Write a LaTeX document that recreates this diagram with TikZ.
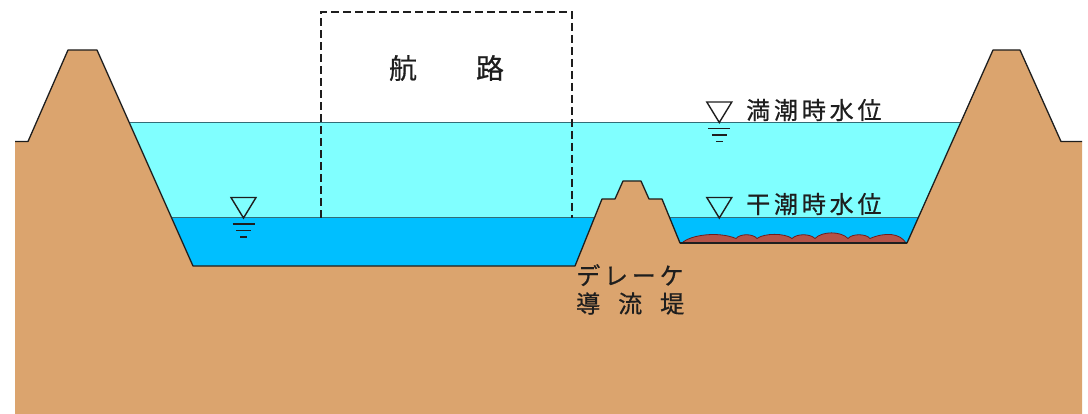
\documentclass[tikz,border=0pt]{standalone}
\usepackage{fontspec}
\newfontfamily\jp[FakeBold=0.6]{Noto Sans CJK JP}
\newfontfamily\jpwide[LetterSpace=16,FakeBold=0.6]{Noto Sans CJK JP}
\definecolor{soil}{RGB}{219,164,110}
\definecolor{highwater}{RGB}{128,255,255}
\definecolor{lowwater}{RGB}{0,191,255}
\definecolor{silt}{RGB}{180,84,72}
\definecolor{siltedge}{RGB}{110,30,30}
\definecolor{surface}{RGB}{50,110,120}
\definecolor{ink}{RGB}{30,30,30}
\begin{document}
\begin{tikzpicture}[x=1pt,y=-1pt,
  levelname/.style={font=\jpwide\fontsize{24pt}{28pt}\selectfont, text=ink, inner sep=0pt},
  fairway/.style={font=\jp\fontsize{28pt}{32pt}\selectfont, text=ink, inner sep=0pt},
  dikename/.style={font=\jpwide\fontsize{24pt}{28pt}\selectfont, text=ink, inner sep=0pt, align=left},
  outline/.style={draw=ink, line width=1.3pt, line join=round},
  surfaceline/.style={draw=surface, line width=1pt},
  tidemark/.pic={
    \draw[ink, line width=1.4pt, line join=miter] (-12.5,-20.5) -- (12.5,-20.5) -- (0,0) -- cycle;
  },
  tideticks/.pic={
    \draw[ink, line width=1.3pt] (-11,6) -- (11,6) (-7.5,12.5) -- (7.5,12.5) (-3.5,19) -- (3.5,19);
  }]
\useasboundingbox (0,0) rectangle (1088,414);

% water at high tide and at low tide
\fill[highwater] (120,123) rectangle (970,270);
\fill[lowwater] (160,218) rectangle (930,270);
\draw[surfaceline] (125,123) -- (965,123);
\draw[surfaceline] (165,218) -- (925,218);

% ground section with the two levees and the training dike
\fill[soil] (15,414) -- (15,141.5) -- (28,141.5) -- (68,50) -- (97,50) -- (193,266)
  -- (575,266) -- (602,199) -- (615,199) -- (623,181) -- (641,181) -- (649,199)
  -- (662,199) -- (680,243) -- (907,243) -- (993,50) -- (1020,50) -- (1061,141.5)
  -- (1082,141.5) -- (1082,414) -- cycle;
\draw[outline] (15,141.5) -- (28,141.5) -- (68,50) -- (97,50) -- (193,266)
  -- (575,266) -- (602,199) -- (615,199) -- (623,181) -- (641,181) -- (649,199)
  -- (662,199) -- (680,243) -- (907,243) -- (993,50) -- (1020,50) -- (1061,141.5)
  -- (1082,141.5);

% silt deposited on the bed of the side channel
\filldraw[fill=silt, draw=siltedge, line width=0.8pt]
  (682,243) .. controls (690,235) and (718,231) .. (736,238.5)
  .. controls (740,233.5) and (753,233.5) .. (757,238.5)
  .. controls (764,233) and (785,233) .. (792,238.5)
  .. controls (797,233.5) and (810,233.5) .. (815,238.5)
  .. controls (822,231) and (841,231) .. (848,238.5)
  .. controls (852,233.5) and (866,233.5) .. (870,238.5)
  .. controls (885,232) and (900,233) .. (906,243) -- cycle;
\draw[ink, line width=1.6pt] (680,243) -- (907,243);

% fairway outline
\draw[ink, line width=1.3pt, dash pattern=on 8pt off 4pt]
  (321,218) -- (321,12) -- (572,12) -- (572,218);
\node[fairway] (fairwaylabel) at (446.5,68) {航\hspace{59pt}路};

% water level marks
\pic at (719.3,122.5) {tidemark};
\pic at (719.3,122.5) {tideticks};
\pic at (719.3,218) {tidemark};
\pic at (243.5,218) {tidemark};
\pic at (243.5,218) {tideticks};

\node[levelname, anchor=west] (hwl) at (746,110) {満潮時水位};
\node[levelname, anchor=west] (lwl) at (746,204) {干潮時水位};

% name of the training dike
\node[dikename, anchor=north west] (dike) at (576,264)
  {デレーケ\\{\jp 導\hspace{18pt}流\hspace{18pt}堤}};
\end{tikzpicture}
\end{document}
